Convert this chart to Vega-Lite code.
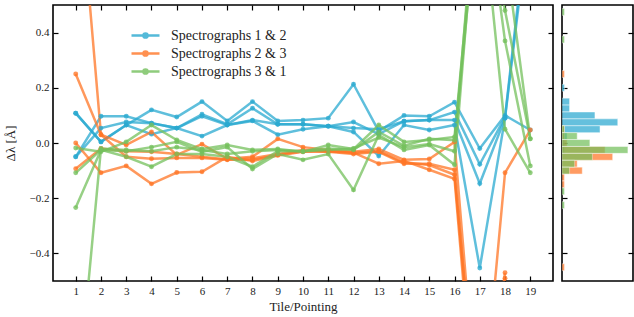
{
"$schema":"https://vega.github.io/schema/vega-lite/v6.json",
"padding":{"left":3,"top":3,"right":0,"bottom":2},
"spacing":5,
"config":{
 "view":{"stroke":"black","strokeWidth":1.6},
 "font":"Liberation Serif, DejaVu Serif, serif",
 "axis":{"grid":false,"domain":false,"tickColor":"black","tickWidth":1.2,"tickSize":-5,"minExtent":0,"labelFont":"Liberation Serif, DejaVu Serif, serif","labelFontSize":11,"labelColor":"#222","titleFont":"Liberation Serif, DejaVu Serif, serif","titleFontSize":13,"titleFontWeight":"normal","titleColor":"#222"},
 "legend":{"orient":"none","legendX":84,"legendY":22,"title":null,"symbolType":"M-2,0L2,0M0.3,0A0.3,0.3,0,1,1,-0.3,0A0.3,0.3,0,1,1,0.3,0","symbolSize":196,"symbolStrokeWidth":2.5,"symbolOpacity":0.8,"labelFont":"Liberation Serif, DejaVu Serif, serif","labelFontSize":14,"labelColor":"#222","rowPadding":2,"labelOffset":17}
},
"hconcat":[
{
 "width":500,"height":276,
 "data":{"values":[
{"s":"Spectrographs 1 & 2","k":"b1","t":1,"d":0.108},{"s":"Spectrographs 1 & 2","k":"b1","t":2,"d":0.004},{"s":"Spectrographs 1 & 2","k":"b1","t":3,"d":0.065},{"s":"Spectrographs 1 & 2","k":"b1","t":4,"d":0.12},{"s":"Spectrographs 1 & 2","k":"b1","t":5,"d":0.094},{"s":"Spectrographs 1 & 2","k":"b1","t":6,"d":0.15},{"s":"Spectrographs 1 & 2","k":"b1","t":7,"d":0.08},{"s":"Spectrographs 1 & 2","k":"b1","t":8,"d":0.15},{"s":"Spectrographs 1 & 2","k":"b1","t":9,"d":0.08},{"s":"Spectrographs 1 & 2","k":"b1","t":10,"d":0.083},{"s":"Spectrographs 1 & 2","k":"b1","t":11,"d":0.09},{"s":"Spectrographs 1 & 2","k":"b1","t":12,"d":0.213},{"s":"Spectrographs 1 & 2","k":"b1","t":13,"d":0.043},{"s":"Spectrographs 1 & 2","k":"b1","t":14,"d":0.1},{"s":"Spectrographs 1 & 2","k":"b1","t":15,"d":0.097},{"s":"Spectrographs 1 & 2","k":"b1","t":16,"d":0.148},{"s":"Spectrographs 1 & 2","k":"b1","t":17,"d":-0.02},{"s":"Spectrographs 1 & 2","k":"b1","t":18,"d":0.1},{"s":"Spectrographs 1 & 2","k":"b1","t":19,"d":0.047},
{"s":"Spectrographs 1 & 2","k":"b2","t":1,"d":-0.05},{"s":"Spectrographs 1 & 2","k":"b2","t":2,"d":0.097},{"s":"Spectrographs 1 & 2","k":"b2","t":3,"d":0.097},{"s":"Spectrographs 1 & 2","k":"b2","t":4,"d":0.072},{"s":"Spectrographs 1 & 2","k":"b2","t":5,"d":0.054},{"s":"Spectrographs 1 & 2","k":"b2","t":6,"d":0.104},{"s":"Spectrographs 1 & 2","k":"b2","t":7,"d":0.068},{"s":"Spectrographs 1 & 2","k":"b2","t":8,"d":0.126},{"s":"Spectrographs 1 & 2","k":"b2","t":9,"d":0.068},{"s":"Spectrographs 1 & 2","k":"b2","t":10,"d":0.068},{"s":"Spectrographs 1 & 2","k":"b2","t":11,"d":0.061},{"s":"Spectrographs 1 & 2","k":"b2","t":12,"d":0.076},{"s":"Spectrographs 1 & 2","k":"b2","t":13,"d":0.032},{"s":"Spectrographs 1 & 2","k":"b2","t":14,"d":0.079},{"s":"Spectrographs 1 & 2","k":"b2","t":15,"d":0.083},{"s":"Spectrographs 1 & 2","k":"b2","t":16,"d":0.112},{"s":"Spectrographs 1 & 2","k":"b2","t":17,"d":-0.077},{"s":"Spectrographs 1 & 2","k":"b2","t":18,"d":0.094},{"s":"Spectrographs 1 & 2","k":"b2","t":19,"d":0.9},
{"s":"Spectrographs 1 & 2","k":"b3","t":1,"d":-0.05},{"s":"Spectrographs 1 & 2","k":"b3","t":2,"d":0.054},{"s":"Spectrographs 1 & 2","k":"b3","t":3,"d":0.076},{"s":"Spectrographs 1 & 2","k":"b3","t":4,"d":0.072},{"s":"Spectrographs 1 & 2","k":"b3","t":5,"d":0.054},{"s":"Spectrographs 1 & 2","k":"b3","t":6,"d":0.097},{"s":"Spectrographs 1 & 2","k":"b3","t":7,"d":0.065},{"s":"Spectrographs 1 & 2","k":"b3","t":8,"d":0.083},{"s":"Spectrographs 1 & 2","k":"b3","t":9,"d":0.068},{"s":"Spectrographs 1 & 2","k":"b3","t":10,"d":0.068},{"s":"Spectrographs 1 & 2","k":"b3","t":11,"d":0.061},{"s":"Spectrographs 1 & 2","k":"b3","t":12,"d":0.054},{"s":"Spectrographs 1 & 2","k":"b3","t":13,"d":0.05},{"s":"Spectrographs 1 & 2","k":"b3","t":14,"d":0.079},{"s":"Spectrographs 1 & 2","k":"b3","t":15,"d":0.083},{"s":"Spectrographs 1 & 2","k":"b3","t":16,"d":0.083},{"s":"Spectrographs 1 & 2","k":"b3","t":17,"d":-0.147},{"s":"Spectrographs 1 & 2","k":"b3","t":18,"d":0.09},{"s":"Spectrographs 1 & 2","k":"b3","t":19,"d":0.85},
{"s":"Spectrographs 1 & 2","k":"b4","t":1,"d":0.108},{"s":"Spectrographs 1 & 2","k":"b4","t":2,"d":0.004},{"s":"Spectrographs 1 & 2","k":"b4","t":3,"d":0.065},{"s":"Spectrographs 1 & 2","k":"b4","t":4,"d":0.032},{"s":"Spectrographs 1 & 2","k":"b4","t":5,"d":0.054},{"s":"Spectrographs 1 & 2","k":"b4","t":6,"d":0.025},{"s":"Spectrographs 1 & 2","k":"b4","t":7,"d":0.065},{"s":"Spectrographs 1 & 2","k":"b4","t":8,"d":0.08},{"s":"Spectrographs 1 & 2","k":"b4","t":9,"d":0.03},{"s":"Spectrographs 1 & 2","k":"b4","t":10,"d":0.05},{"s":"Spectrographs 1 & 2","k":"b4","t":11,"d":0.061},{"s":"Spectrographs 1 & 2","k":"b4","t":12,"d":0.04},{"s":"Spectrographs 1 & 2","k":"b4","t":13,"d":-0.047},{"s":"Spectrographs 1 & 2","k":"b4","t":14,"d":0.065},{"s":"Spectrographs 1 & 2","k":"b4","t":15,"d":0.047},{"s":"Spectrographs 1 & 2","k":"b4","t":16,"d":0.065},{"s":"Spectrographs 1 & 2","k":"b4","t":17,"d":-0.453},{"s":"Spectrographs 1 & 2","k":"b4","t":18,"d":0.09},
{"s":"Spectrographs 2 & 3","k":"o1","t":1,"d":1.1},{"s":"Spectrographs 2 & 3","k":"o1","t":2,"d":0.03},{"s":"Spectrographs 2 & 3","k":"o1","t":3,"d":-0.007},{"s":"Spectrographs 2 & 3","k":"o1","t":4,"d":0.04},{"s":"Spectrographs 2 & 3","k":"o1","t":5,"d":-0.043},{"s":"Spectrographs 2 & 3","k":"o1","t":6,"d":-0.004},{"s":"Spectrographs 2 & 3","k":"o1","t":7,"d":-0.057},{"s":"Spectrographs 2 & 3","k":"o1","t":8,"d":-0.05},{"s":"Spectrographs 2 & 3","k":"o1","t":9,"d":0.015},{"s":"Spectrographs 2 & 3","k":"o1","t":10,"d":-0.015},{"s":"Spectrographs 2 & 3","k":"o1","t":11,"d":-0.025},{"s":"Spectrographs 2 & 3","k":"o1","t":12,"d":-0.032},{"s":"Spectrographs 2 & 3","k":"o1","t":13,"d":-0.022},{"s":"Spectrographs 2 & 3","k":"o1","t":14,"d":-0.061},{"s":"Spectrographs 2 & 3","k":"o1","t":15,"d":-0.058},{"s":"Spectrographs 2 & 3","k":"o1","t":16,"d":0.004},{"s":"Spectrographs 2 & 3","k":"o1","t":17,"d":-1.1},{"s":"Spectrographs 2 & 3","k":"o1","t":18,"d":-0.108},{"s":"Spectrographs 2 & 3","k":"o1","t":19,"d":0.047},
{"s":"Spectrographs 2 & 3","k":"o2","t":1,"d":0.25},{"s":"Spectrographs 2 & 3","k":"o2","t":2,"d":0.03},{"s":"Spectrographs 2 & 3","k":"o2","t":3,"d":-0.05},{"s":"Spectrographs 2 & 3","k":"o2","t":4,"d":-0.057},{"s":"Spectrographs 2 & 3","k":"o2","t":5,"d":-0.054},{"s":"Spectrographs 2 & 3","k":"o2","t":6,"d":-0.054},{"s":"Spectrographs 2 & 3","k":"o2","t":7,"d":-0.061},{"s":"Spectrographs 2 & 3","k":"o2","t":8,"d":-0.061},{"s":"Spectrographs 2 & 3","k":"o2","t":9,"d":-0.043},{"s":"Spectrographs 2 & 3","k":"o2","t":10,"d":-0.03},{"s":"Spectrographs 2 & 3","k":"o2","t":11,"d":-0.032},{"s":"Spectrographs 2 & 3","k":"o2","t":12,"d":-0.04},{"s":"Spectrographs 2 & 3","k":"o2","t":13,"d":-0.032},{"s":"Spectrographs 2 & 3","k":"o2","t":14,"d":-0.075},{"s":"Spectrographs 2 & 3","k":"o2","t":15,"d":-0.075},{"s":"Spectrographs 2 & 3","k":"o2","t":16,"d":-0.097},{"s":"Spectrographs 2 & 3","k":"o2","t":17,"d":-1.15},{"s":"Spectrographs 2 & 3","k":"o2","t":18,"d":-0.47},
{"s":"Spectrographs 2 & 3","k":"o3","t":1,"d":0.0},{"s":"Spectrographs 2 & 3","k":"o3","t":2,"d":-0.108},{"s":"Spectrographs 2 & 3","k":"o3","t":3,"d":-0.083},{"s":"Spectrographs 2 & 3","k":"o3","t":4,"d":-0.148},{"s":"Spectrographs 2 & 3","k":"o3","t":5,"d":-0.107},{"s":"Spectrographs 2 & 3","k":"o3","t":6,"d":-0.104},{"s":"Spectrographs 2 & 3","k":"o3","t":7,"d":-0.05},{"s":"Spectrographs 2 & 3","k":"o3","t":8,"d":-0.065},{"s":"Spectrographs 2 & 3","k":"o3","t":9,"d":-0.045},{"s":"Spectrographs 2 & 3","k":"o3","t":10,"d":-0.032},{"s":"Spectrographs 2 & 3","k":"o3","t":11,"d":-0.03},{"s":"Spectrographs 2 & 3","k":"o3","t":12,"d":-0.035},{"s":"Spectrographs 2 & 3","k":"o3","t":13,"d":-0.075},{"s":"Spectrographs 2 & 3","k":"o3","t":14,"d":-0.065},{"s":"Spectrographs 2 & 3","k":"o3","t":15,"d":-0.097},{"s":"Spectrographs 2 & 3","k":"o3","t":16,"d":-0.13},{"s":"Spectrographs 2 & 3","k":"o3","t":17,"d":-1.2},{"s":"Spectrographs 2 & 3","k":"o3","t":18,"d":-0.49},
{"s":"Spectrographs 2 & 3","k":"o4","t":1,"d":-0.093},{"s":"Spectrographs 2 & 3","k":"o4","t":2,"d":-0.02},{"s":"Spectrographs 2 & 3","k":"o4","t":3,"d":-0.03},{"s":"Spectrographs 2 & 3","k":"o4","t":4,"d":-0.032},{"s":"Spectrographs 2 & 3","k":"o4","t":5,"d":-0.04},{"s":"Spectrographs 2 & 3","k":"o4","t":6,"d":-0.05},{"s":"Spectrographs 2 & 3","k":"o4","t":7,"d":-0.06},{"s":"Spectrographs 2 & 3","k":"o4","t":8,"d":-0.055},{"s":"Spectrographs 2 & 3","k":"o4","t":9,"d":-0.04},{"s":"Spectrographs 2 & 3","k":"o4","t":10,"d":-0.025},{"s":"Spectrographs 2 & 3","k":"o4","t":11,"d":-0.03},{"s":"Spectrographs 2 & 3","k":"o4","t":12,"d":-0.035},{"s":"Spectrographs 2 & 3","k":"o4","t":13,"d":-0.03},{"s":"Spectrographs 2 & 3","k":"o4","t":14,"d":-0.07},{"s":"Spectrographs 2 & 3","k":"o4","t":15,"d":-0.08},{"s":"Spectrographs 2 & 3","k":"o4","t":16,"d":-0.115},{"s":"Spectrographs 2 & 3","k":"o4","t":17,"d":-1.1},
{"s":"Spectrographs 3 & 1","k":"g1","t":1,"d":-0.018},{"s":"Spectrographs 3 & 1","k":"g1","t":2,"d":-0.032},{"s":"Spectrographs 3 & 1","k":"g1","t":3,"d":0.004},{"s":"Spectrographs 3 & 1","k":"g1","t":4,"d":0.065},{"s":"Spectrographs 3 & 1","k":"g1","t":5,"d":0.011},{"s":"Spectrographs 3 & 1","k":"g1","t":6,"d":-0.022},{"s":"Spectrographs 3 & 1","k":"g1","t":7,"d":-0.007},{"s":"Spectrographs 3 & 1","k":"g1","t":8,"d":-0.025},{"s":"Spectrographs 3 & 1","k":"g1","t":9,"d":-0.022},{"s":"Spectrographs 3 & 1","k":"g1","t":10,"d":-0.032},{"s":"Spectrographs 3 & 1","k":"g1","t":11,"d":-0.007},{"s":"Spectrographs 3 & 1","k":"g1","t":12,"d":-0.022},{"s":"Spectrographs 3 & 1","k":"g1","t":13,"d":0.065},{"s":"Spectrographs 3 & 1","k":"g1","t":14,"d":0.004},{"s":"Spectrographs 3 & 1","k":"g1","t":15,"d":0.011},{"s":"Spectrographs 3 & 1","k":"g1","t":16,"d":0.022},{"s":"Spectrographs 3 & 1","k":"g1","t":17,"d":1.0},{"s":"Spectrographs 3 & 1","k":"g1","t":18,"d":0.48},{"s":"Spectrographs 3 & 1","k":"g1","t":19,"d":0.015},
{"s":"Spectrographs 3 & 1","k":"g2","t":1,"d":-0.108},{"s":"Spectrographs 3 & 1","k":"g2","t":2,"d":-0.025},{"s":"Spectrographs 3 & 1","k":"g2","t":3,"d":-0.03},{"s":"Spectrographs 3 & 1","k":"g2","t":4,"d":-0.015},{"s":"Spectrographs 3 & 1","k":"g2","t":5,"d":0.004},{"s":"Spectrographs 3 & 1","k":"g2","t":6,"d":-0.032},{"s":"Spectrographs 3 & 1","k":"g2","t":7,"d":-0.015},{"s":"Spectrographs 3 & 1","k":"g2","t":8,"d":-0.094},{"s":"Spectrographs 3 & 1","k":"g2","t":9,"d":-0.04},{"s":"Spectrographs 3 & 1","k":"g2","t":10,"d":-0.061},{"s":"Spectrographs 3 & 1","k":"g2","t":11,"d":-0.04},{"s":"Spectrographs 3 & 1","k":"g2","t":12,"d":-0.17},{"s":"Spectrographs 3 & 1","k":"g2","t":13,"d":0.029},{"s":"Spectrographs 3 & 1","k":"g2","t":14,"d":-0.025},{"s":"Spectrographs 3 & 1","k":"g2","t":15,"d":-0.007},{"s":"Spectrographs 3 & 1","k":"g2","t":16,"d":-0.079},{"s":"Spectrographs 3 & 1","k":"g2","t":17,"d":1.05},{"s":"Spectrographs 3 & 1","k":"g2","t":18,"d":0.37},{"s":"Spectrographs 3 & 1","k":"g2","t":19,"d":-0.083},
{"s":"Spectrographs 3 & 1","k":"g3","t":1,"d":-0.234},{"s":"Spectrographs 3 & 1","k":"g3","t":2,"d":-0.025},{"s":"Spectrographs 3 & 1","k":"g3","t":3,"d":-0.05},{"s":"Spectrographs 3 & 1","k":"g3","t":4,"d":-0.086},{"s":"Spectrographs 3 & 1","k":"g3","t":5,"d":-0.04},{"s":"Spectrographs 3 & 1","k":"g3","t":6,"d":-0.04},{"s":"Spectrographs 3 & 1","k":"g3","t":7,"d":-0.05},{"s":"Spectrographs 3 & 1","k":"g3","t":8,"d":-0.086},{"s":"Spectrographs 3 & 1","k":"g3","t":9,"d":-0.03},{"s":"Spectrographs 3 & 1","k":"g3","t":10,"d":-0.03},{"s":"Spectrographs 3 & 1","k":"g3","t":11,"d":-0.02},{"s":"Spectrographs 3 & 1","k":"g3","t":12,"d":-0.025},{"s":"Spectrographs 3 & 1","k":"g3","t":13,"d":0.04},{"s":"Spectrographs 3 & 1","k":"g3","t":14,"d":-0.01},{"s":"Spectrographs 3 & 1","k":"g3","t":15,"d":0.015},{"s":"Spectrographs 3 & 1","k":"g3","t":16,"d":0.01},{"s":"Spectrographs 3 & 1","k":"g3","t":17,"d":0.95},{"s":"Spectrographs 3 & 1","k":"g3","t":18,"d":0.05},{"s":"Spectrographs 3 & 1","k":"g3","t":19,"d":-0.108},
{"s":"Spectrographs 3 & 1","k":"g4","t":1,"d":-1.0},{"s":"Spectrographs 3 & 1","k":"g4","t":2,"d":-0.02},{"s":"Spectrographs 3 & 1","k":"g4","t":3,"d":-0.025},{"s":"Spectrographs 3 & 1","k":"g4","t":4,"d":-0.03},{"s":"Spectrographs 3 & 1","k":"g4","t":5,"d":-0.015},{"s":"Spectrographs 3 & 1","k":"g4","t":6,"d":-0.025},{"s":"Spectrographs 3 & 1","k":"g4","t":7,"d":-0.04},{"s":"Spectrographs 3 & 1","k":"g4","t":8,"d":-0.03},{"s":"Spectrographs 3 & 1","k":"g4","t":9,"d":-0.025},{"s":"Spectrographs 3 & 1","k":"g4","t":10,"d":-0.03},{"s":"Spectrographs 3 & 1","k":"g4","t":11,"d":-0.025},{"s":"Spectrographs 3 & 1","k":"g4","t":12,"d":-0.02},{"s":"Spectrographs 3 & 1","k":"g4","t":13,"d":0.02},{"s":"Spectrographs 3 & 1","k":"g4","t":14,"d":-0.015},{"s":"Spectrographs 3 & 1","k":"g4","t":15,"d":-0.004},{"s":"Spectrographs 3 & 1","k":"g4","t":16,"d":-0.03},{"s":"Spectrographs 3 & 1","k":"g4","t":17,"d":1.1},{"s":"Spectrographs 3 & 1","k":"g4","t":18,"d":0.7},{"s":"Spectrographs 3 & 1","k":"g4","t":19,"d":0.015}
 ]},
 "layer":[
  {"mark":{"type":"line","clip":true,"strokeWidth":2.5,"opacity":0.75},
   "encoding":{
    "x":{"field":"t","type":"quantitative","scale":{"domain":[0.1,19.9],"nice":false,"zero":false},"axis":{"orient":"bottom","values":[1,2,3,4,5,6,7,8,9,10,11,12,13,14,15,16,17,18,19],"format":"d","title":"Tile/Pointing","labelPadding":9,"titlePadding":4}},
    "y":{"field":"d","type":"quantitative","scale":{"domain":[-0.5,0.5],"nice":false,"zero":false},"axis":{"orient":"left","values":[-0.4,-0.2,0,0.2,0.4],"format":".1f","title":"Δλ [Å]","labelPadding":9,"titlePadding":12}},
    "color":{"field":"s","type":"nominal","scale":{"domain":["Spectrographs 1 & 2","Spectrographs 2 & 3","Spectrographs 3 & 1"],"range":["#2aa9d0","#ff7626","#74c05c"]},"legend":{"title":null}},
    "detail":{"field":"k"}
   }},
  {"mark":{"type":"point","clip":true,"filled":true,"size":24,"opacity":0.78},
   "encoding":{
    "x":{"field":"t","type":"quantitative","axis":{"orient":"top","values":[1,2,3,4,5,6,7,8,9,10,11,12,13,14,15,16,17,18,19],"labels":false,"title":null}},
    "y":{"field":"d","type":"quantitative","axis":{"orient":"right","values":[-0.4,-0.2,0,0.2,0.4],"labels":false,"title":null}},
    "color":{"field":"s","type":"nominal"}
   }}
 ],
 "resolve":{"axis":{"x":"independent","y":"independent"}}
},
{
 "width":71,"height":276,
 "data":{"values":[
{"s":"Spectrographs 1 & 2","lo":0.1875,"hi":0.2125,"n":1},{"s":"Spectrographs 1 & 2","lo":0.1375,"hi":0.1625,"n":3},{"s":"Spectrographs 1 & 2","lo":0.1125,"hi":0.1375,"n":3},{"s":"Spectrographs 1 & 2","lo":0.0875,"hi":0.1125,"n":13},{"s":"Spectrographs 1 & 2","lo":0.0625,"hi":0.0875,"n":22},{"s":"Spectrographs 1 & 2","lo":0.0375,"hi":0.0625,"n":15},{"s":"Spectrographs 1 & 2","lo":0.0125,"hi":0.0375,"n":2},{"s":"Spectrographs 1 & 2","lo":-0.0125,"hi":0.0125,"n":1},{"s":"Spectrographs 1 & 2","lo":-0.0375,"hi":-0.0125,"n":1},
{"s":"Spectrographs 2 & 3","lo":0.2375,"hi":0.2625,"n":1},{"s":"Spectrographs 2 & 3","lo":0.0375,"hi":0.0625,"n":1},{"s":"Spectrographs 2 & 3","lo":0.0125,"hi":0.0375,"n":1},{"s":"Spectrographs 2 & 3","lo":-0.0125,"hi":0.0125,"n":2},{"s":"Spectrographs 2 & 3","lo":-0.0375,"hi":-0.0125,"n":17},{"s":"Spectrographs 2 & 3","lo":-0.0625,"hi":-0.0375,"n":20},{"s":"Spectrographs 2 & 3","lo":-0.0875,"hi":-0.0625,"n":6},{"s":"Spectrographs 2 & 3","lo":-0.1125,"hi":-0.0875,"n":8},{"s":"Spectrographs 2 & 3","lo":-0.1375,"hi":-0.1125,"n":1},{"s":"Spectrographs 2 & 3","lo":-0.1625,"hi":-0.1375,"n":1},{"s":"Spectrographs 2 & 3","lo":-0.4625,"hi":-0.4375,"n":1},
{"s":"Spectrographs 3 & 1","lo":0.4625,"hi":0.4875,"n":1},{"s":"Spectrographs 3 & 1","lo":0.3625,"hi":0.3875,"n":1},{"s":"Spectrographs 3 & 1","lo":0.0375,"hi":0.0625,"n":1},{"s":"Spectrographs 3 & 1","lo":0.0125,"hi":0.0375,"n":6},{"s":"Spectrographs 3 & 1","lo":-0.0125,"hi":0.0125,"n":11},{"s":"Spectrographs 3 & 1","lo":-0.0375,"hi":-0.0125,"n":26},{"s":"Spectrographs 3 & 1","lo":-0.0625,"hi":-0.0375,"n":12},{"s":"Spectrographs 3 & 1","lo":-0.0875,"hi":-0.0625,"n":5},{"s":"Spectrographs 3 & 1","lo":-0.1125,"hi":-0.0875,"n":3},{"s":"Spectrographs 3 & 1","lo":-0.1875,"hi":-0.1625,"n":1},{"s":"Spectrographs 3 & 1","lo":-0.2375,"hi":-0.2125,"n":1}
 ]},
 "layer":[
  {"mark":{"type":"bar","clip":true,"opacity":0.72,"stroke":"white","strokeWidth":0.5},
   "encoding":{
    "y":{"field":"lo","type":"quantitative","scale":{"domain":[-0.5,0.5],"nice":false,"zero":false},"axis":{"orient":"left","values":[-0.4,-0.2,0,0.2,0.4],"labels":false,"title":null}},
    "y2":{"field":"hi"},
    "x":{"field":"n","type":"quantitative","scale":{"domain":[0,28],"nice":false},"axis":null},
    "x2":{"datum":0},
    "color":{"field":"s","type":"nominal"}
   }},
  {"mark":{"type":"point","opacity":0},
   "encoding":{
    "y":{"field":"lo","type":"quantitative","axis":{"orient":"right","values":[-0.4,-0.2,0,0.2,0.4],"labels":false,"title":null}}
   }}
 ],
 "resolve":{"axis":{"y":"independent"}}
}
]
}
